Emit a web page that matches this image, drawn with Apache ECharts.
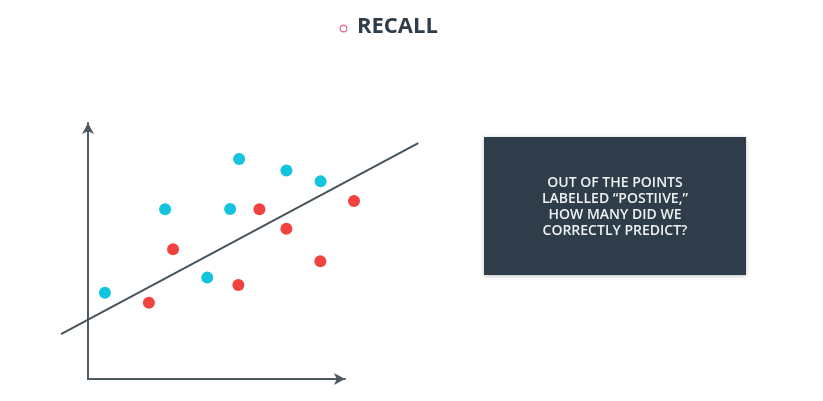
<!DOCTYPE html>
<html>
<head>
<meta charset="utf-8">
<script src="https://cdn.jsdelivr.net/npm/echarts@6/dist/echarts.min.js"></script>
<style>
  html, body { margin: 0; padding: 0; background: #fff; }
  #main { width: 823px; height: 401px; }
</style>
</head>
<body>
<div id="main"></div>
<script>
// Points (axis units 0..10)
const bluePoints = [
  [0.66, 3.37], [3.0, 6.63], [5.88, 8.59], [5.53, 6.64],
  [4.64, 3.96], [7.72, 8.14], [9.05, 7.72]
];
const redPoints = [
  [2.37, 2.98], [3.31, 5.07], [6.67, 6.63], [7.72, 5.87],
  [5.85, 3.67], [9.04, 4.60], [10.35, 6.95]
];
// Separating line end points
const boundaryLine = [[-1.05, 1.75], [12.85, 9.21]];

const titleText = "RECALL";
const questionText = [
  "OUT OF THE POINTS",
  "LABELLED \u201CPOSTIIVE,\u201D",
  "HOW MANY DID WE",
  "CORRECTLY PREDICT?"
];

const axisColor = "#4f5b62";
const pxPerUnit = 25.7;

const hiddenAxis = {
  axisLine: { show: false },
  axisTick: { show: false },
  axisLabel: { show: false },
  splitLine: { show: false }
};

const arrowAxis = {
  type: "value",
  min: 0,
  max: 10,
  axisLine: {
    show: true,
    symbol: ["none", "arrow"],
    symbolSize: [9, 11],
    lineStyle: { color: axisColor, width: 2 }
  },
  axisTick: { show: false },
  axisLabel: { show: false },
  splitLine: { show: false }
};

const chart = echarts.init(document.getElementById("main"));

chart.setOption({
  backgroundColor: "#ffffff",
  animation: false,
  grid: [
    // visible axes
    { left: 88, top: 123, width: 257, height: 256 },
    // wider data area so the line and outer points are not cut
    { left: 88 + boundaryLine[0][0] * pxPerUnit, top: 123,
      width: (boundaryLine[1][0] - boundaryLine[0][0]) * pxPerUnit, height: 256 }
  ],
  xAxis: [
    Object.assign({ gridIndex: 0 }, arrowAxis),
    Object.assign({ gridIndex: 1, type: "value",
      min: boundaryLine[0][0], max: boundaryLine[1][0] }, hiddenAxis)
  ],
  yAxis: [
    Object.assign({ gridIndex: 0 }, arrowAxis),
    Object.assign({ gridIndex: 1, type: "value", min: 0, max: 10 }, hiddenAxis)
  ],
  series: [
    {
      type: "line",
      xAxisIndex: 1,
      yAxisIndex: 1,
      data: boundaryLine,
      symbol: "none",
      lineStyle: { color: "#47545c", width: 2 },
      z: 2
    },
    {
      type: "scatter",
      xAxisIndex: 1,
      yAxisIndex: 1,
      data: bluePoints,
      symbolSize: 12,
      itemStyle: { color: "#12c4de", opacity: 1 },
      z: 3
    },
    {
      type: "scatter",
      xAxisIndex: 1,
      yAxisIndex: 1,
      data: redPoints,
      symbolSize: 12,
      itemStyle: { color: "#f2423f", opacity: 1 },
      z: 3
    }
  ],
  graphic: [
    // title
    {
      type: "circle",
      shape: { cx: 343.5, cy: 28.5, r: 3.3 },
      style: { fill: "none", stroke: "#e9779c", lineWidth: 1.4 }
    },
    {
      type: "text",
      left: 357,
      top: 16,
      style: {
        text: titleText,
        fill: "#2e3d49",
        font: "bold 22px 'Open Sans', sans-serif"
      }
    },
    // question box
    {
      type: "rect",
      shape: { x: 484, y: 137, width: 262, height: 138 },
      style: {
        fill: "#2e3d49",
        shadowBlur: 4,
        shadowColor: "rgba(0,0,0,0.25)",
        shadowOffsetY: 1
      }
    },
    {
      type: "text",
      x: 615,
      y: 207,
      style: {
        text: questionText.join("\n"),
        fill: "#eef1f2",
        font: "600 14px 'Open Sans', sans-serif",
        lineHeight: 16.3,
        align: "center",
        verticalAlign: "middle"
      }
    }
  ]
});
</script>
</body>
</html>
